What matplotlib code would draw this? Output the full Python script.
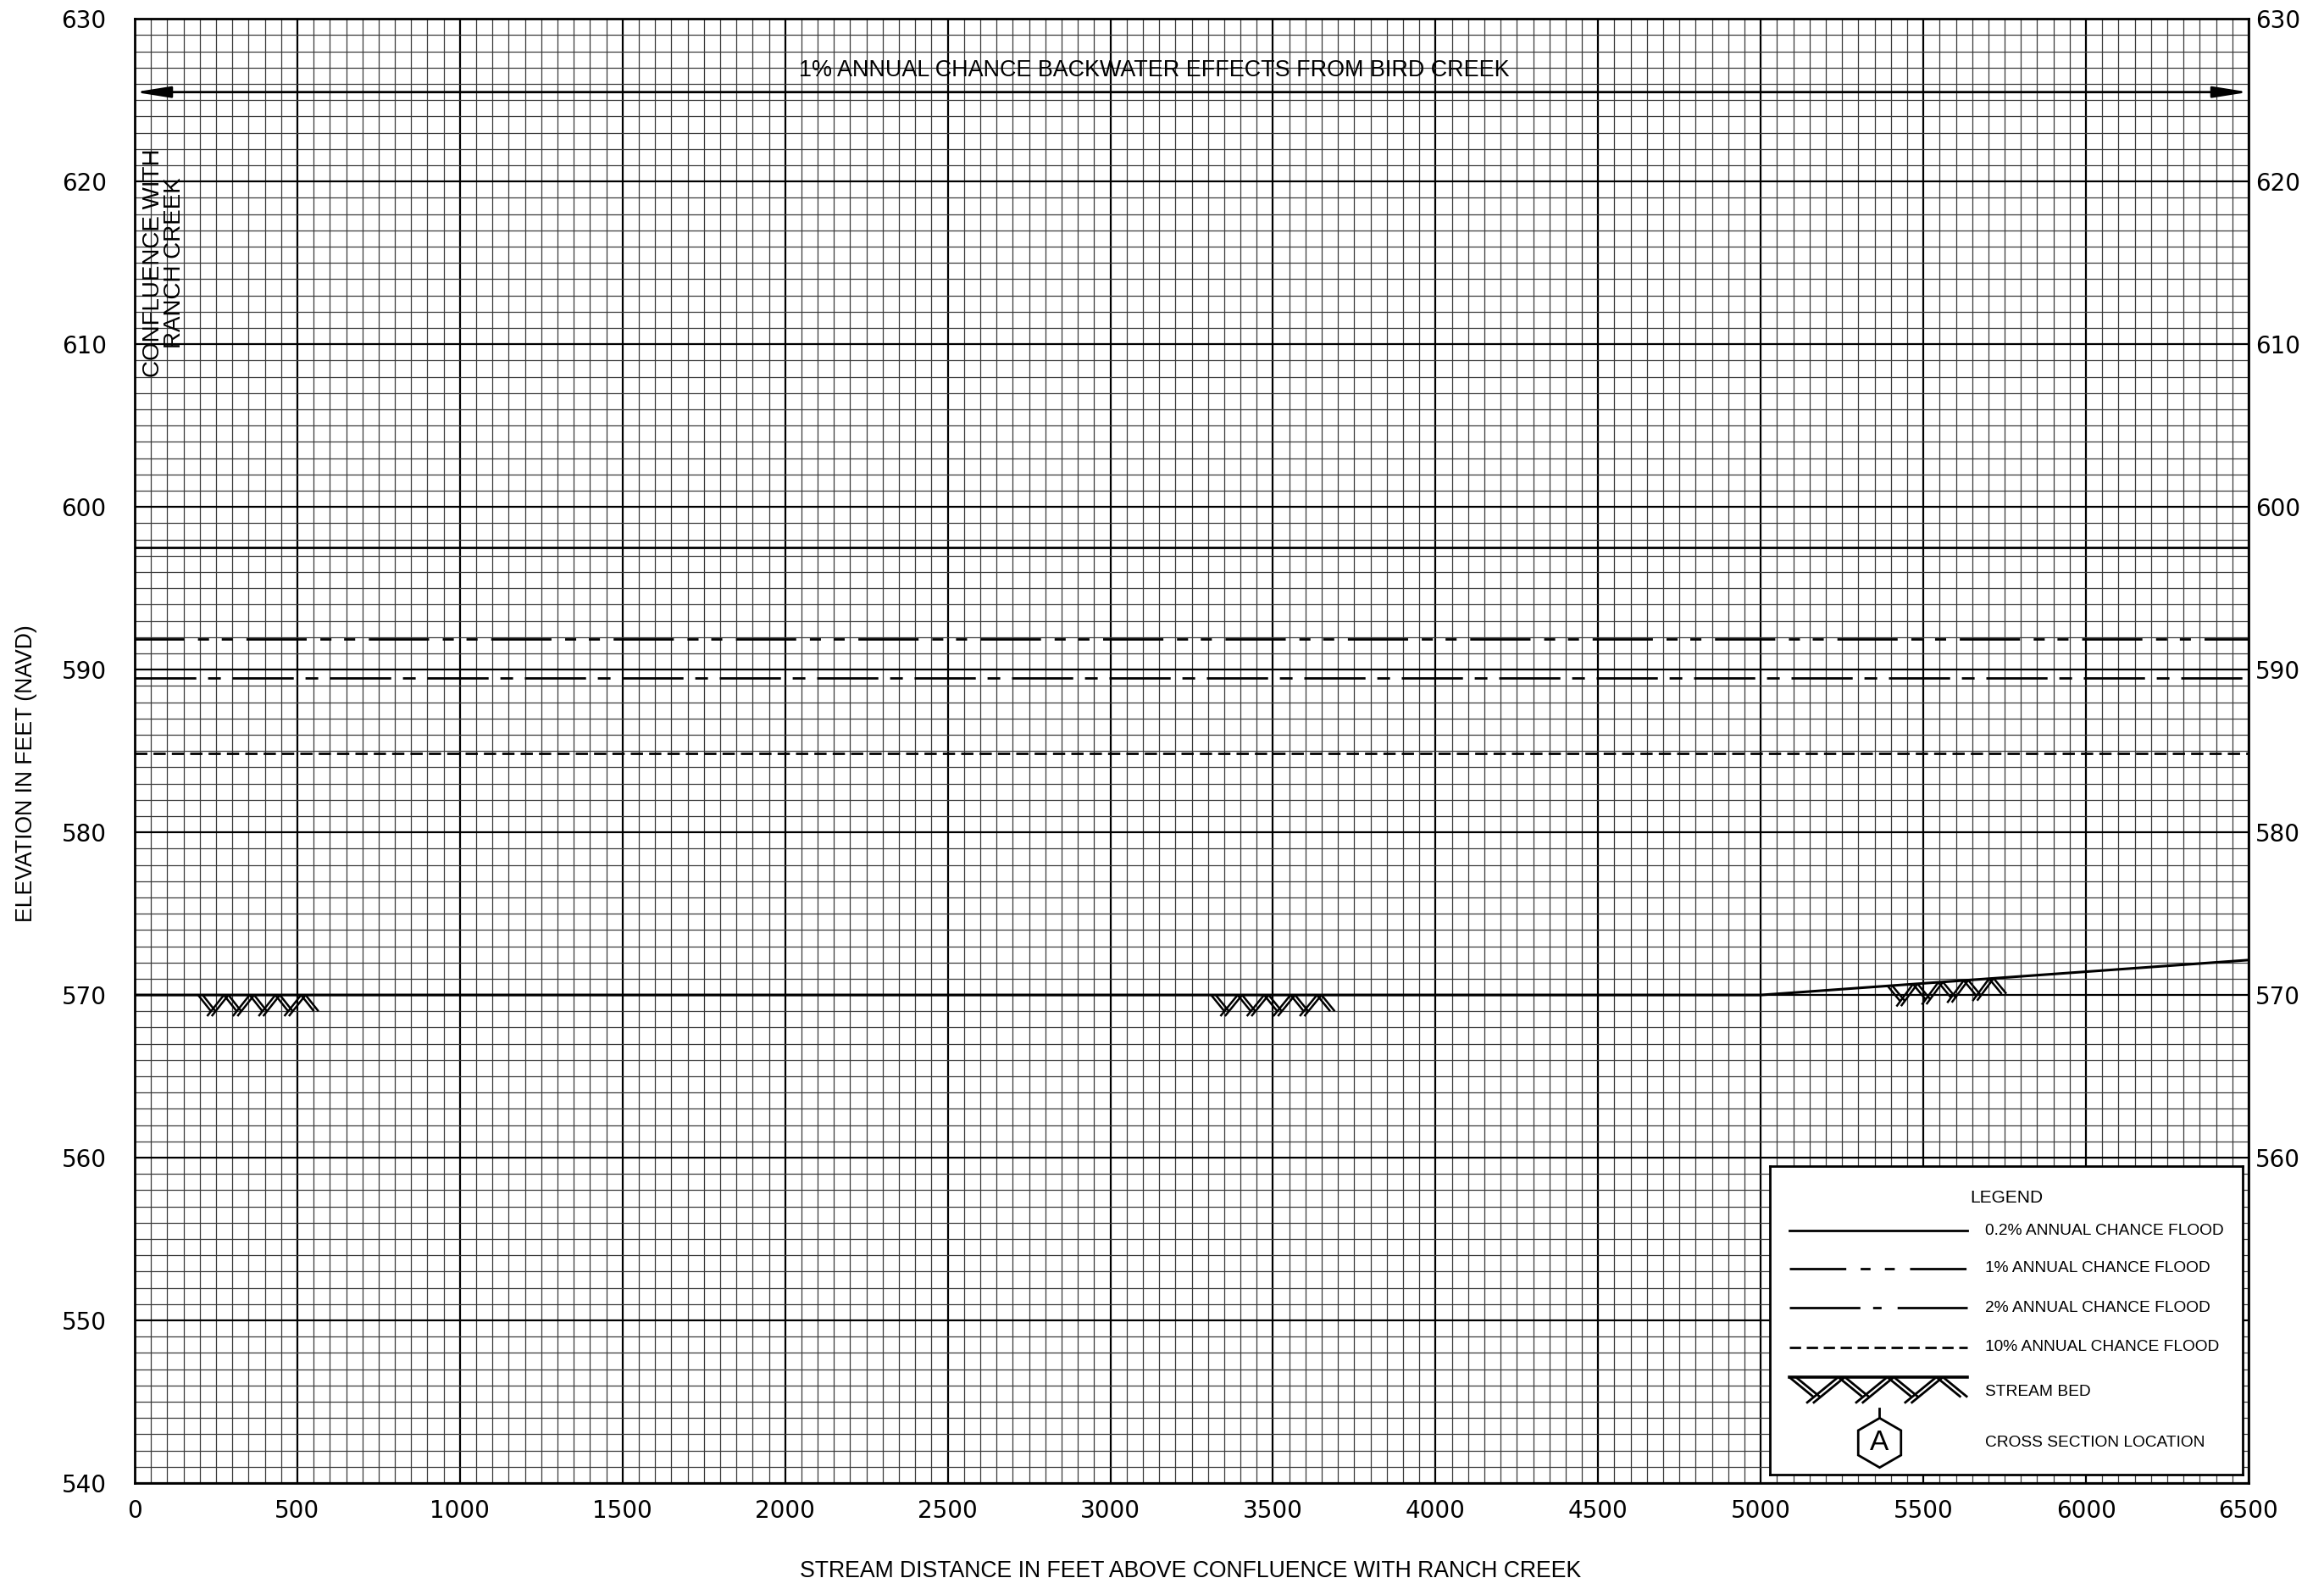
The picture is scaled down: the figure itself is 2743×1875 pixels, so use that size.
import numpy as np
import matplotlib.pyplot as plt

plt.rcParams['font.family'] = ['Liberation Sans', 'DejaVu Sans']

# water surface profiles (elevation in feet, NAVD)
station = [0, 6500]
flood_02 = [597.5, 597.5]
flood_1 = [591.9, 591.9]
flood_2 = [589.5, 589.5]
flood_10 = [584.85, 584.85]

# stream bed profile and hatched stretches
bed_station = [0, 5000, 6500]
bed_elev = [570.0, 570.0, 572.15]
hatch_from = [195, 3310, 5390]
hatch_to = [565, 3690, 5755]

backwater_elev = 625.5

x_ticks = list(range(0, 6501, 500))
y_ticks = list(range(540, 631, 10))
right_ticks = list(range(560, 631, 10))

legend_labels = ['0.2% ANNUAL CHANCE FLOOD', '1% ANNUAL CHANCE FLOOD',
                 '2% ANNUAL CHANCE FLOOD', '10% ANNUAL CHANCE FLOOD']

# line patterns
LS_1 = (4.7, (25.6, 5.8, 4.7, 5.4, 4.7, 5.8))
LS_2 = (0, (26, 5, 5.4, 5))
LS_10 = (0, (5.2, 2.6))
LEG_1 = (0, (24, 6.1, 4.2, 6.1, 4.2, 6.5))
LEG_2 = (0, (30, 5.4, 3.6, 6.8))
LEG_10 = (0, (4.8, 2.4))


def bed_hatch(ax, x0, x1, top, period, depth, shift, lw=0.9):
    # herringbone style: doubled strokes, the rising ones run past the V bottom
    half = period / 2
    n = max(2, int(round((x1 - x0 - shift) / half)))
    half = (x1 - x0 - shift) / n
    for i in range(n):
        xa, xb = x0 + i * half, x0 + (i + 1) * half
        for s in (0, shift):
            if i % 2 == 0:
                xs = np.array([xa, xb]) + s
                ys = np.array([top(xs[0]), top(xs[1]) - depth])
            else:
                ext = 0.3 * half
                xs = np.array([xa - ext, xb]) + s
                ys = np.array([top(xs[0]) - depth * 1.3, top(xs[1])])
            ax.plot(xs, ys, color='black', lw=lw, solid_capstyle='butt', zorder=4)


fig = plt.figure(figsize=(13.715, 9.375), dpi=200)
ax = fig.add_axes([0.05797, 0.06667, 0.90958, 0.92144])
ax.set_xlim(0, 6500)
ax.set_ylim(540, 630)
ax.set_xticks(x_ticks)
ax.set_yticks(y_ticks)
ax.set_xticks(np.arange(0, 6501, 50), minor=True)
ax.set_yticks(np.arange(540, 631, 1), minor=True)
ax.set_axisbelow(True)
ax.grid(which='minor', color='#3a3a3a', lw=0.45)
ax.grid(which='major', color='black', lw=0.8)
ax.tick_params(which='both', length=0)
ax.tick_params(axis='x', pad=7)
ax.tick_params(axis='y', pad=12)
for lbl in ax.get_xticklabels() + ax.get_yticklabels():
    lbl.set_fontfamily('DejaVu Sans')
    lbl.set_fontsize(10)
for sp in ax.spines.values():
    sp.set_linewidth(1.0)

ax2 = ax.twinx()
ax2.set_ylim(540, 630)
ax2.set_yticks(right_ticks)
ax2.tick_params(length=0, pad=3)
for lbl in ax2.get_yticklabels():
    lbl.set_fontfamily('DejaVu Sans')
    lbl.set_fontsize(10)
for sp in ax2.spines.values():
    sp.set_visible(False)

# flood profiles
ax.plot(station, flood_02, color='black', lw=1.0)
ax.plot(station, flood_1, color='black', lw=1.0, ls=LS_1)
ax.plot(station, flood_2, color='black', lw=1.0, ls=LS_2)
ax.plot(station, flood_10, color='black', lw=1.0, ls=LS_10)

# stream bed
ax.plot(bed_station, bed_elev, color='black', lw=1.1)
bed_top = lambda x: np.interp(x, bed_station, bed_elev)
for a, b in zip(hatch_from, hatch_to):
    bed_hatch(ax, a, b, bed_top, 80, 1.0, 14)

# backwater arrow and notes
ax.annotate('', xy=(0, backwater_elev), xytext=(6500, backwater_elev),
            arrowprops=dict(arrowstyle='<|-|>,head_length=1.26,head_width=0.2',
                            mutation_scale=10, lw=1.0, color='black',
                            shrinkA=0, shrinkB=0),
            annotation_clip=False)
ax.text(3134, 626.86, '1% ANNUAL CHANCE BACKWATER EFFECTS FROM BIRD CREEK',
        ha='center', va='center', fontsize=9.7)
ax.text(90, 615.0, 'CONFLUENCE WITH\nRANCH CREEK', rotation=90,
        ha='center', va='center', fontsize=10, linespacing=0.95,
        multialignment='center')

fig.text(0.5122, 0.0112, 'STREAM DISTANCE IN FEET ABOVE CONFLUENCE WITH RANCH CREEK',
         ha='center', va='center', fontsize=9.6)
fig.text(0.0113, 0.513, 'ELEVATION IN FEET (NAVD)', rotation=90,
         ha='center', va='center', fontsize=9.6)

# legend box
lg = ax.inset_axes([0.7735, 0.0058, 0.2237, 0.2107])
lg.set_xlim(0, 1)
lg.set_ylim(0, 1)
lg.set_xticks([])
lg.set_yticks([])
lg.set_facecolor('white')
for sp in lg.spines.values():
    sp.set_linewidth(1.0)
lg.text(0.5, 0.898, 'LEGEND', ha='center', va='center', fontsize=7.5)
rows = [0.791, 0.668, 0.541, 0.412]
styles = ['-', LEG_1, LEG_2, LEG_10]
for y, ls, lab in zip(rows, styles, legend_labels):
    lg.plot([0.041, 0.418], [y, y], color='black', lw=1.0, ls=ls)
    lg.text(0.455, y, lab, ha='left', va='center', fontsize=6.9)
lg.plot([0.041, 0.418], [0.316, 0.316], color='black', lw=1.3)
bed_hatch(lg, 0.041, 0.418, lambda x: 0.316 + 0 * x, 0.1, 0.065, 0.014, lw=1.0)
lg.text(0.455, 0.269, 'STREAM BED', ha='left', va='center', fontsize=6.9)
lg.plot([0.231, 0.231], [0.184, 0.213], color='black', lw=1.0)
lg.plot([0.231], [0.103], marker='h', ms=21, mfc='white', mec='black', mew=1.0)
lg.text(0.231, 0.103, 'A', ha='center', va='center', fontsize=12)
lg.text(0.455, 0.104, 'CROSS SECTION LOCATION', ha='left', va='center', fontsize=6.9)

fig.savefig('out.png', dpi=200)
